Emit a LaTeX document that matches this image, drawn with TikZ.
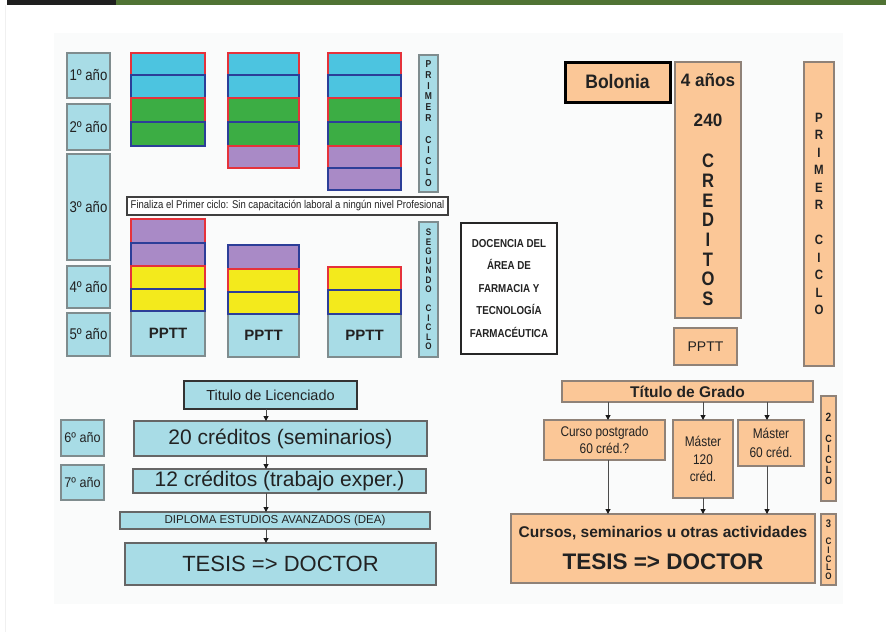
\documentclass[tikz,border=0pt]{standalone}
\usepackage{fontspec}
\setmainfont{Liberation Sans}
\newfontfamily\cn[FakeStretch=0.85]{Liberation Sans}
\usetikzlibrary{arrows.meta,calc}
\definecolor{yearfill}{HTML}{A8DCE6}
\definecolor{yearline}{HTML}{7F8C8E}
\definecolor{cyanR}{HTML}{4CC4E0}
\definecolor{greenR}{HTML}{3CAD44}
\definecolor{purpleR}{HTML}{A98AC6}
\definecolor{yellowR}{HTML}{F3EA1C}
\definecolor{redB}{HTML}{E5323B}
\definecolor{blueB}{HTML}{2C3E98}
\definecolor{orangeF}{HTML}{FBC797}
\definecolor{orangeL}{HTML}{8F8278}
\definecolor{txt}{HTML}{222222}
\definecolor{topgreen}{HTML}{507334}
\definecolor{panel}{HTML}{FAFBFB}
\newcommand{\fs}[2]{\fontsize{#1}{#2}\selectfont}
\newcommand{\bx}[7]{\node[#6,minimum width={(#4-#2)*1pt},minimum height={(#5-#3)*1pt}] (#1) at ({(#2+#4)/2},{(#3+#5)/2}) {#7};}
\tikzset{
  base/.style={inner sep=0pt,outer sep=0pt,align=center,text=txt},
  year/.style={base,draw=yearline,fill=yearfill,line width=1.4pt,font=\cn\fs{15.5}{18}},
  rowR/.style={base,draw=redB,line width=1.6pt},
  rowB/.style={base,draw=blueB,line width=1.6pt},
  pptt/.style={base,draw=yearline,fill=yearfill,line width=1.4pt,font=\bfseries\fs{15}{18}},
  vbox/.style={base,draw=yearline,fill=yearfill,line width=1.4pt},
  lbox/.style={base,draw=gray!80!black,fill=yearfill,line width=1.4pt},
  obox/.style={base,draw=orangeL,fill=orangeF,line width=1.2pt},
  conn/.style={draw=black!70,line width=1pt,-{Triangle[length=5pt,width=5pt,color=black!90,fill=black!90]}},
}
\begin{document}
\begin{tikzpicture}[x=1pt,y=-1pt]
\useasboundingbox (0,0) rectangle (886,632);
\fill[white] (0,0) rectangle (886,632);
\fill[black!88] (7,0) rectangle (116,4.5);
\fill[topgreen] (116,0) rectangle (886,4.5);
\draw[black!6,line width=0.8pt] (5.5,5) -- (5.5,632);
\fill[panel] (54,33) rectangle (843,604);

% year boxes
\bx{y1}{67}{53}{110}{98}{year}{1º año}
\bx{y2}{67}{104}{110}{150}{year}{2º año}
\bx{y3}{67}{154}{110}{260}{year}{3º año}
\bx{y4}{67}{266}{110}{308}{year}{4º año}
\bx{y5}{67}{313}{110}{356}{year}{5º año}

% top columns
\bx{a1}{131}{53}{205}{75}{rowR,fill=cyanR}{}
\bx{a2}{131}{75}{205}{98}{rowB,fill=cyanR}{}
\bx{a3}{131}{98}{205}{122}{rowR,fill=greenR}{}
\bx{a4}{131}{122}{205}{146}{rowB,fill=greenR}{}

\bx{b1}{228}{53}{299}{75}{rowR,fill=cyanR}{}
\bx{b2}{228}{75}{299}{98}{rowB,fill=cyanR}{}
\bx{b3}{228}{98}{299}{122}{rowR,fill=greenR}{}
\bx{b4}{228}{122}{299}{146}{rowB,fill=greenR}{}
\bx{b5}{228}{146}{299}{168}{rowR,fill=purpleR}{}

\bx{c1}{328}{53}{401}{75}{rowR,fill=cyanR}{}
\bx{c2}{328}{75}{401}{98}{rowB,fill=cyanR}{}
\bx{c3}{328}{98}{401}{122}{rowR,fill=greenR}{}
\bx{c4}{328}{122}{401}{146}{rowB,fill=greenR}{}
\bx{c5}{328}{146}{401}{168}{rowR,fill=purpleR}{}
\bx{c6}{328}{168}{401}{190}{rowB,fill=purpleR}{}

\bx{pc1}{419}{55}{438}{192}{vbox,font=\cn\bfseries\fs{10}{10.8}}{P\\R\\I\\M\\E\\R\\[10.8pt]C\\I\\C\\L\\O}

\bx{fin}{127}{197}{448}{215}{base,draw=black!75,fill=white,line width=1.8pt,font=\cn\fs{11.2}{12}}{Finaliza el Primer ciclo: Sin capacitación laboral a ningún nivel Profesional}

% bottom columns
\bx{d5}{131}{311}{205}{356}{pptt}{PPTT}
\bx{d1}{131}{219}{205}{243}{rowR,fill=purpleR}{}
\bx{d2}{131}{243}{205}{266}{rowB,fill=purpleR}{}
\bx{d3}{131}{266}{205}{289}{rowR,fill=yellowR}{}
\bx{d4}{131}{289}{205}{311}{rowB,fill=yellowR}{}

\bx{e4}{228}{314}{299}{357}{pptt}{PPTT}
\bx{e1}{228}{245}{299}{269}{rowB,fill=purpleR}{}
\bx{e2}{228}{269}{299}{292}{rowR,fill=yellowR}{}
\bx{e3}{228}{292}{299}{314}{rowB,fill=yellowR}{}

\bx{f3}{328}{314}{401}{357}{pptt}{PPTT}
\bx{f1}{328}{267}{401}{290}{rowR,fill=yellowR}{}
\bx{f2}{328}{290}{401}{314}{rowB,fill=yellowR}{}

\bx{sc1}{419}{222}{438}{357}{vbox,font=\cn\bfseries\fs{9.5}{9.5}}{S\\E\\G\\U\\N\\D\\O\\[9.5pt]C\\I\\C\\L\\O}

\bx{doc}{461}{223}{557}{354}{base,draw=black!85,fill=white,line width=2pt,font=\cn\bfseries\fs{11.5}{22.5}}{DOCENCIA DEL\\ÁREA DE\\FARMACIA Y\\TECNOLOGÍA\\FARMACÉUTICA}

% left lower section
\bx{tl}{184}{381}{357}{409}{lbox,draw=black!80,line width=2.2pt,font=\fs{14.5}{17}}{Titulo de Licenciado}
\bx{y6}{61}{420}{104}{456}{year,font=\cn\addfontfeature{FakeStretch=0.9}\fs{14}{17}}{6º año}
\bx{y7}{61}{465}{104}{500}{year,font=\cn\addfontfeature{FakeStretch=0.9}\fs{14}{17}}{7º año}
\bx{c20}{134}{421}{427}{456}{lbox,font=\fs{21}{24}}{20 créditos (seminarios)}
\bx{c12}{133}{469}{426}{493}{lbox,font=\fs{21}{24}}{12 créditos (trabajo exper.)}
\bx{dea}{120}{512}{430}{529}{lbox,font=\fs{11.5}{13}}{DIPLOMA ESTUDIOS AVANZADOS (DEA)}
\bx{tes}{125}{543}{436}{585}{lbox,font=\fs{22}{26}}{TESIS => DOCTOR}

\coordinate (axL) at (266,0);
\draw[conn] (tl.south -| axL) -- (c20.north -| axL);
\draw[conn] (c20.south -| axL) -- (c12.north -| axL);
\draw[conn] (c12.south -| axL) -- (dea.north -| axL);
\draw[conn] (dea.south -| axL) -- (tes.north -| axL);

% right section
\bx{bol}{565}{62}{670}{102}{base,draw=black,fill=orangeF,line width=3pt,font=\cn\addfontfeature{FakeStretch=0.9}\bfseries\fs{19.5}{22}}{Bolonia}
\bx{cr}{675}{62}{741}{318}{obox}{}
\node[base,font=\cn\addfontfeature{FakeStretch=0.95}\bfseries\fs{18}{20}] (t4) at (708,80) {4 años};
\node[base,font=\cn\addfontfeature{FakeStretch=0.95}\bfseries\fs{18}{20}] (t240) at (708,120) {240};
\node[base,font=\cn\bfseries\fs{19.5}{19.7}] (tcr) at (708,230) {C\\R\\E\\D\\I\\T\\O\\S};
\bx{pr}{674}{328}{737}{365}{obox,font=\fs{14}{16}}{PPTT}
\bx{pc2}{804}{62}{834}{366}{obox,font=\cn\bfseries\fs{13.5}{17.5}}{P\\R\\I\\M\\E\\R\\[17.5pt]C\\I\\C\\L\\O}

\bx{tg}{562}{381}{813}{402}{obox,font=\bfseries\fs{15.5}{18}}{Título de Grado}
\bx{cp}{544}{420}{665}{460}{obox,font=\cn\fs{14}{17}}{Curso postgrado\\60 créd.?}
\bx{m120}{673}{420}{733}{498}{obox,font=\cn\fs{14}{17.5}}{Máster\\120\\créd.}
\bx{m60}{738}{420}{804}{466}{obox,font=\cn\fs{14}{18.5}}{Máster\\60 créd.}
\bx{c2c}{821}{396}{836}{501}{obox,font=\cn\bfseries\fs{10.5}{10.5}}{\fs{12}{10.5}2\\[10.5pt]C\\I\\C\\L\\O}
\bx{big}{511}{514}{815}{583}{obox,line width=1.6pt}{}
\node[base,font=\bfseries\fs{15.5}{18}] (tcur) at (663,533) {Cursos, seminarios u otras actividades};
\node[base,font=\bfseries\fs{22.5}{26}] (ttes) at (663,562) {TESIS => DOCTOR};
\bx{c3c}{821}{514}{836}{585}{obox,font=\cn\bfseries\fs{9.5}{8.7}}{\fs{11}{8.7}3\\[8.7pt]C\\I\\C\\L\\O}

\coordinate (ax1) at (608,0);
\coordinate (ax2) at (703,0);
\coordinate (ax3) at (767,0);
\draw[conn] (tg.south -| ax1) -- (cp.north -| ax1);
\draw[conn] (tg.south -| ax2) -- (m120.north -| ax2);
\draw[conn] (tg.south -| ax3) -- (m60.north -| ax3);
\draw[conn] (cp.south -| ax1) -- (big.north -| ax1);
\draw[conn] (m120.south -| ax2) -- (big.north -| ax2);
\draw[conn] (m60.south -| ax3) -- (big.north -| ax3);
\end{tikzpicture}
\end{document}
